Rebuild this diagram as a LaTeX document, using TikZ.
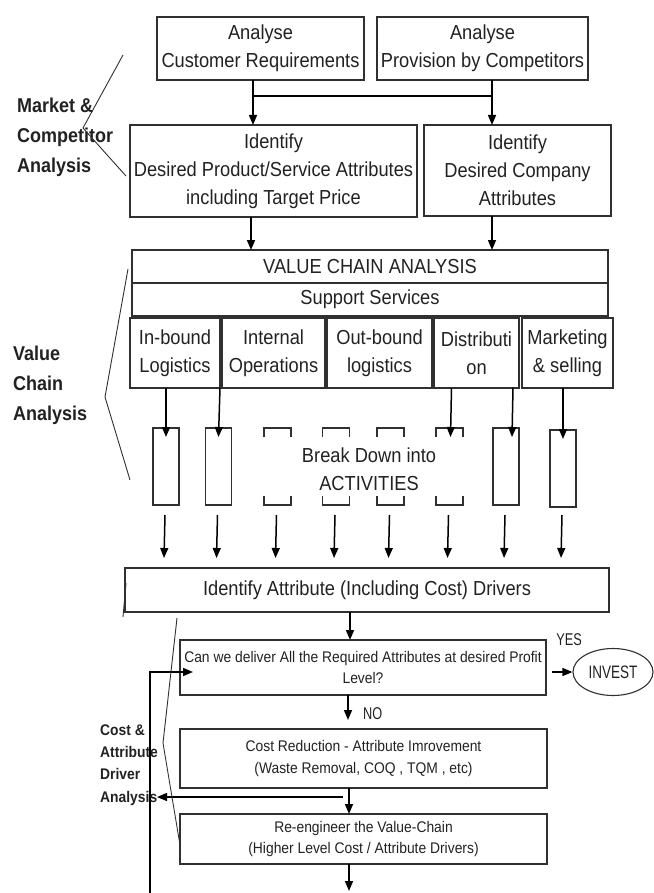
\documentclass[tikz,border=0pt]{standalone}
\usepackage{fontspec}
\setmainfont[FakeStretch=0.9]{Liberation Sans}
\newfontfamily\narrowfont[FakeStretch=0.75]{Liberation Sans}
\usetikzlibrary{arrows.meta,calc,shapes.geometric}
\definecolor{ink}{HTML}{222222}
\definecolor{edge}{HTML}{303030}
\tikzset{
  box/.style={draw=edge, line width=1.4pt, inner sep=0pt, outer sep=0pt, align=center, text=ink, font=\fontsize{20.3}{28}\selectfont},
  sbox/.style={box, font=\fontsize{15.4}{21.5}\selectfont},
  actbox/.style={draw=edge, line width=1.4pt, minimum width=26pt, minimum height=77pt, inner sep=0pt, outer sep=0pt},
  ghost/.style={minimum width=27pt, minimum height=77pt, inner sep=0pt, outer sep=0pt},
  arr/.style={draw=black, line width=1.5pt, -{Triangle[length=10pt,width=8pt]}},
  plain/.style={draw=black, line width=1.5pt},
  brace/.style={draw=edge, line width=0.9pt},
  lab/.style={font=\bfseries\fontsize{20}{30}\selectfont, align=left, anchor=west, text=ink, inner sep=0pt},
  slab/.style={font=\bfseries\fontsize{15.4}{22.3}\selectfont, align=left, anchor=west, text=ink, inner sep=0pt},
  narrowlab/.style={font=\narrowfont\fontsize{17}{17}\selectfont, text=ink, inner sep=0pt},
}
\begin{document}
\begin{tikzpicture}[x=1pt,y=-1pt]
\useasboundingbox (0,0) rectangle (653,893);
\fill[white] (0,0) rectangle (653,893);

% top boxes
\node[box, minimum width=207pt, minimum height=63pt] (a1) at (260.5,48.5) {Analyse\\Customer Requirements};
\node[box, minimum width=211pt, minimum height=63pt] (a2) at (482.5,48.5) {Analyse\\Provision by Competitors};
\node[box, minimum width=287pt, minimum height=92pt] (b1) at (273.5,171) {Identify\\Desired Product/Service Attributes\\including Target Price};
\node[box, minimum width=187pt, minimum height=91pt] (b2) at (517.5,170.5) {Identify\\Desired Company\\Attributes};
\node[box, minimum width=476pt, minimum height=33pt] (vca) at (370,266.5) {VALUE CHAIN ANALYSIS};
\node[box, minimum width=476pt, minimum height=33pt] (sup) at (370,299.5) {Support Services};

% activities
\node[box, minimum width=90pt, minimum height=70pt] (inb) at (175,353) {In-bound\\Logistics};
\node[box, minimum width=103pt, minimum height=70pt] (intop) at (273.5,353) {Internal\\Operations};
\node[box, minimum width=105pt, minimum height=70pt] (outb) at (379.5,353) {Out-bound\\logistics};
\node[box, minimum width=85pt, minimum height=70pt] (dist) at (476.5,353) {Distributi\\on};
\node[box, minimum width=91pt, minimum height=70pt] (mkt) at (567.5,353) {Marketing\\\& selling};

% small activity boxes
\node[actbox] (s1) at (166,466.5) {};
\node[actbox] (s2) at (218.5,466.5) {};
\node[ghost] (s3) at (277.5,466.5) {};
\node[ghost] (s4) at (336,466.5) {};
\node[ghost] (s5) at (390.5,466.5) {};
\node[ghost] (s6) at (449.5,466.5) {};
\node[actbox] (s7) at (506,466.5) {};
\node[actbox] (s8) at (563,468.5) {};
\foreach \n in {s3,s4,s5,s6}{
  \draw[draw=edge, line width=1.4pt] ($(\n.north west)+(0,9)$) -- (\n.north west) -- (\n.north east) -- ($(\n.north east)+(0,9)$);
  \draw[draw=edge, line width=1.4pt] ($(\n.south west)+(0,-9)$) -- (\n.south west) -- (\n.south east) -- ($(\n.south east)+(0,-9)$);
}
\node[align=center, text=ink, inner sep=0pt, font=\fontsize{20.3}{28}\selectfont] (bd) at (369,469) {Break Down into\\ACTIVITIES};

\node[box, minimum width=484pt, minimum height=44pt] (iad) at (367,590) {Identify Attribute (Including Cost) Drivers};

% lower flow
\node[sbox, minimum width=366pt, minimum height=55pt] (q) at (363,667.5) {Can we deliver All the Required Attributes at desired Profit\\Level?};
\node[draw=edge, ellipse, line width=1.1pt, minimum width=80pt, minimum height=47pt, inner sep=0pt, text=ink, font=\narrowfont\fontsize{18}{18}\selectfont] (inv) at (613,672) {INVEST};
\node[narrowlab] (yes) at (569,640) {YES};
\node[sbox, minimum width=367pt, minimum height=59pt] (cost) at (363.5,758.5) {Cost Reduction - Attribute Imrovement\\(Waste Removal, COQ , TQM , etc)};
\node[sbox, minimum width=367pt, minimum height=50pt] (re) at (363.5,839) {Re-engineer the Value-Chain\\(Higher Level Cost / Attribute Drivers)};
\node[narrowlab, anchor=west] (no) at (363,714) {NO};

% side labels
\node[lab] (l1) at (17,137) {Market \&\\Competitor\\Analysis};
\node[lab] (l2) at (13,385) {Value\\Chain\\Analysis};
\node[slab] (l3) at (100,765) {Cost \&\\Attribute\\Driver\\Analysis};

% coordinates
\coordinate (h1) at (253,96);
\coordinate (h2) at (492,96);
\coordinate (h3) at (251,0);
\coordinate (mx) at (350,0);

% top arrows
\draw[arr] (a1.south -| h1) -- (b1.north -| h1);
\draw[arr] (a2.south -| h2) -- (b2.north -| h2);
\draw[plain] (h1) -- (h2);
\draw[arr] (b1.south -| h3) -- (vca.north -| h3);
\draw[arr] (b2.south -| h2) -- (vca.north -| h2);

% activity arrows
\draw[arr] (inb.south -| s1) -- ($(s1.north)+(0,9)$);
\draw[arr] ($(inb.south -| s2)+(1.5,0)$) -- ($(s2.north)+(0,9)$);
\draw[arr] ($(dist.south -| s6)+(2,0)$) -- ($(s6.north)+(1,9)$);
\draw[arr] ($(dist.south -| s7)+(7,0)$) -- ($(s7.north)+(6,9)$);
\draw[arr] (mkt.south -| s8) -- ($(s8.north)+(0,9)$);

\foreach \n in {s1,s2,s3,s4,s5,s6,s7,s8}{
  \draw[arr] ($(\n.south |- s1.south)+(-1,10)$) -- ($(\n.south |- iad.north)+(-2,-10)$);
}

% decision flow
\draw[arr] (iad.south -| mx) -- (q.north -| mx);
\draw[arr] ($(q.east |- inv.west)+(6,0)$) -- (inv.west);
\draw[arr] ($(q.south -| mx)+(-2,0)$) -- ($(cost.north -| mx)+(-2,-9)$);
\draw[arr] ($(cost.south -| mx)+(-1,0)$) -- ($(re.north -| mx)+(-1,0)$);
\coordinate (ls) at (343,797);
\coordinate (la) at (157,797);
\draw[arr, line width=1.2pt] (ls) -- (la);
\coordinate (bend) at (349,891);
\draw[arr] ($(re.south -| mx)+(-1,0)$) -- (bend);
\coordinate (fb0) at (150,893);
\coordinate (fb1) at (150,672);
\draw[arr] (fb0) -- (fb1) -- ($(q.west |- fb1)+(13,0)$);

% brackets
\draw[brace] (123,55) -- (83,128) -- (126,176);
\draw[brace] (128,269) -- (105,397) -- (130,480);
\draw[brace] (126,583) -- (123,617);
\draw[brace] (177,618) -- (163,743) -- (180,845);
\end{tikzpicture}
\end{document}
